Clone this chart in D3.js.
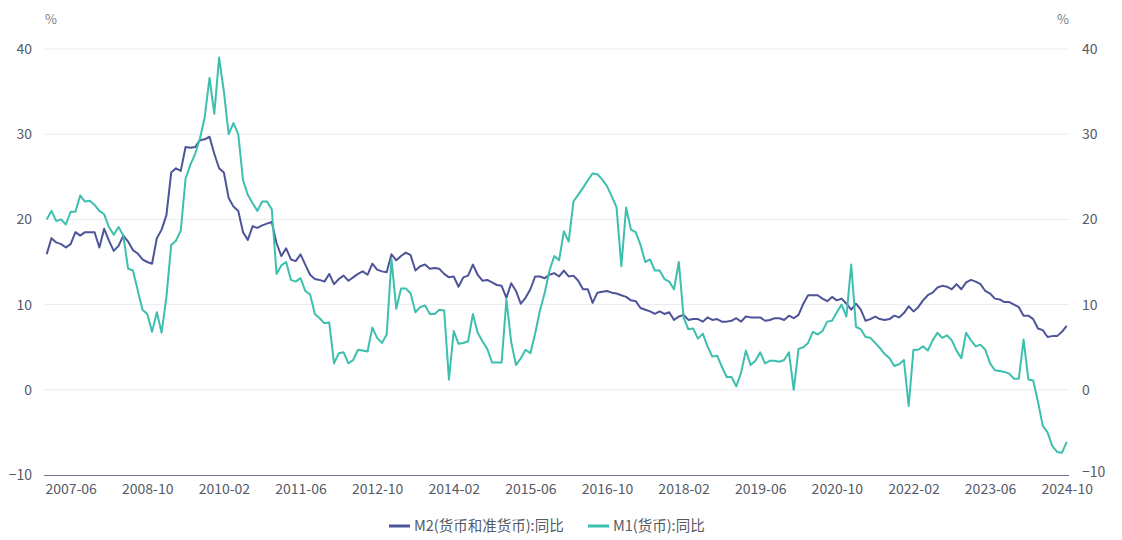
<!DOCTYPE html>
<html><head><meta charset="utf-8">
<script src="https://cdn.jsdelivr.net/npm/d3@7"></script>
<style>
html,body{margin:0;padding:0;background:#fff;}
svg text{font-family:"Noto Sans CJK SC","Noto Sans",sans-serif;}
</style></head>
<body><svg id="chart" width="1122" height="540"></svg>
<script>
// Monthly categories 2007-01 .. 2024-10
const startYear = 2007, startMonth = 1, monthCount = 214;
const months = [];
for (let k = 0; k < monthCount; k++) {
  const y = startYear + Math.floor((startMonth - 1 + k) / 12);
  const m = ((startMonth - 1 + k) % 12) + 1;
  months.push(y + "-" + String(m).padStart(2, "0"));
}
const xTickLabels = ["2007-06","2008-10","2010-02","2011-06","2012-10","2014-02","2015-06",
  "2016-10","2018-02","2019-06","2020-10","2022-02","2023-06","2024-10"];
const yTicks = [-10, 0, 10, 20, 30, 40];

const seriesNames = ["M2(货币和准货币):同比", "M1(货币):同比"];
const m2 = [
 15.9,17.8,17.3,17.1,16.7,17.1,18.5,18.1,18.5,18.5,18.5,16.7,
 18.9,17.5,16.3,16.9,18.1,17.4,16.4,16.0,15.3,15.0,14.8,17.8,
 18.8,20.5,25.5,26.0,25.7,28.5,28.4,28.5,29.3,29.4,29.7,27.7,
 26.0,25.5,22.5,21.5,21.0,18.5,17.6,19.2,19.0,19.3,19.5,19.7,
 17.2,15.7,16.6,15.3,15.1,15.9,14.7,13.5,13.0,12.9,12.7,13.6,
 12.4,13.0,13.4,12.8,13.2,13.6,13.9,13.5,14.8,14.1,13.9,13.8,
 15.9,15.2,15.7,16.1,15.8,14.0,14.5,14.7,14.2,14.3,14.2,13.6,
 13.2,13.3,12.1,13.2,13.4,14.7,13.5,12.8,12.9,12.6,12.3,12.2,
 10.8,12.5,11.6,10.1,10.8,11.8,13.3,13.3,13.1,13.5,13.7,13.3,
 14.0,13.3,13.4,12.8,11.8,11.8,10.2,11.4,11.5,11.6,11.4,11.3,
 11.1,10.9,10.5,10.4,9.6,9.4,9.2,8.9,9.2,8.9,9.1,8.2,
 8.6,8.8,8.2,8.3,8.3,8.0,8.5,8.2,8.3,8.0,8.0,8.1,
 8.4,8.0,8.6,8.5,8.5,8.5,8.1,8.2,8.4,8.4,8.2,8.7,
 8.4,8.8,10.1,11.1,11.1,11.1,10.7,10.4,10.9,10.5,10.7,10.1,
 9.4,10.1,9.4,8.1,8.3,8.6,8.3,8.2,8.3,8.7,8.5,9.0,
 9.8,9.2,9.7,10.5,11.1,11.4,12.0,12.2,12.1,11.8,12.4,11.8,
 12.6,12.9,12.7,12.4,11.6,11.3,10.7,10.6,10.3,10.3,10.0,9.7,
 8.7,8.7,8.3,7.2,7.0,6.2,6.3,6.3,6.8,7.5
];
const m1 = [
 20.0,21.0,19.8,20.0,19.4,20.9,20.9,22.8,22.1,22.2,21.7,21.0,
 20.6,19.1,18.2,19.1,18.1,14.2,14.0,11.7,9.4,8.9,6.8,9.1,
 6.7,10.9,17.0,17.5,18.7,24.8,26.4,27.7,29.5,32.0,36.6,32.4,
 39.0,35.0,30.0,31.3,30.0,24.6,22.9,21.9,21.0,22.1,22.1,21.2,
 13.6,14.6,15.0,12.9,12.7,13.1,11.6,11.2,8.9,8.4,7.8,7.9,
 3.1,4.3,4.4,3.1,3.5,4.7,4.6,4.5,7.3,6.1,5.5,6.5,
 15.3,9.5,11.9,11.9,11.3,9.1,9.7,9.9,8.9,8.9,9.4,9.3,
 1.2,6.9,5.4,5.5,5.7,8.9,6.7,5.7,4.8,3.2,3.2,3.2,
 10.6,5.6,2.9,3.7,4.7,4.3,6.6,9.3,11.4,14.0,15.7,15.2,
 18.6,17.4,22.1,22.9,23.7,24.6,25.4,25.3,24.7,23.9,22.7,21.4,
 14.5,21.4,18.8,18.5,17.0,15.0,15.3,14.0,14.0,13.0,12.7,11.8,
 15.0,8.5,7.1,7.2,6.0,6.6,5.1,3.9,4.0,2.7,1.5,1.5,
 0.4,2.0,4.6,2.9,3.4,4.4,3.1,3.4,3.4,3.3,3.5,4.4,
 0.0,4.8,5.0,5.5,6.8,6.5,6.9,8.0,8.1,9.1,10.0,8.6,
 14.7,7.4,7.1,6.2,6.1,5.5,4.9,4.2,3.7,2.8,3.0,3.5,
 -1.9,4.7,4.7,5.1,4.6,5.8,6.7,6.1,6.4,5.8,4.6,3.7,
 6.7,5.8,5.1,5.3,4.7,3.1,2.3,2.2,2.1,1.9,1.3,1.3,
 5.9,1.2,1.1,-1.4,-4.2,-5.0,-6.6,-7.3,-7.4,-6.1
];
const colors = ["#4d5498", "#3dbfae"];

const svg = d3.select("#chart");
const plotL = 44, plotR = 1069, plotT = 49, plotB = 475;

const x = d3.scalePoint().domain(months).range([46.7, 1066.7]);
const y = d3.scaleLinear().domain([-10, 40]).range([plotB, plotT]);

// gridlines
svg.append("g").selectAll("line").data(yTicks.filter(d => d !== -10)).join("line")
  .attr("x1", plotL).attr("x2", plotR)
  .attr("y1", d => y(d)).attr("y2", d => y(d))
  .attr("stroke", "#ebebf3").attr("stroke-width", 1);

// left axis
const leftAxis = d3.axisLeft(y).tickValues(yTicks).tickSize(0).tickPadding(12);
const gl = svg.append("g").attr("transform", `translate(${plotL},0)`).call(leftAxis);
gl.select(".domain").remove();
gl.selectAll("text").attr("fill", "#555a66").style("font-size", "14px");

// right axis
const rightAxis = d3.axisRight(y).tickValues(yTicks).tickSize(0).tickPadding(13);
const gr = svg.append("g").attr("transform", `translate(${plotR},0)`).call(rightAxis);
gr.select(".domain").remove();
gr.selectAll("text").attr("fill", "#555a66").style("font-size", "14px")
  .attr("y", d => d === -10 ? -3 : 0);

// unit labels
svg.append("text").attr("x", 51).attr("y", 24).attr("text-anchor", "middle")
  .attr("fill", "#777b88").style("font-size", "13px").text("%");
svg.append("text").attr("x", 1063).attr("y", 24).attr("text-anchor", "middle")
  .attr("fill", "#777b88").style("font-size", "13px").text("%");

// bottom axis
const bottomAxis = d3.axisBottom(x).tickValues(xTickLabels).tickSize(0).tickPadding(9);
const gb = svg.append("g").attr("transform", `translate(0,${plotB})`).call(bottomAxis);
gb.select(".domain").attr("d", `M${plotL},0.5H${plotR}`).attr("stroke", "#6f7494").attr("stroke-width", 1.2);
gb.selectAll("text").attr("fill", "#555a66").style("font-size", "14px");

// lines
const series = [m2, m1];
const lineGen = d3.line().x((d, i) => x(months[i])).y(d => y(d));
svg.append("g").selectAll("path").data(series).join("path")
  .attr("d", d => lineGen(d))
  .attr("fill", "none")
  .attr("stroke", (d, i) => colors[i])
  .attr("stroke-width", 2)
  .attr("stroke-linejoin", "round");

// legend
const legendItems = [{x: 389, name: seriesNames[0], c: colors[0]}, {x: 588, name: seriesNames[1], c: colors[1]}];
const lg = svg.append("g");
legendItems.forEach(it => {
  lg.append("line").attr("x1", it.x).attr("x2", it.x + 21).attr("y1", 526).attr("y2", 526)
    .attr("stroke", it.c).attr("stroke-width", 3);
  lg.append("text").attr("x", it.x + 25).attr("y", 531).attr("fill", "#555a66")
    .style("font-size", "14.5px").text(it.name);
});
</script>
</body></html>
